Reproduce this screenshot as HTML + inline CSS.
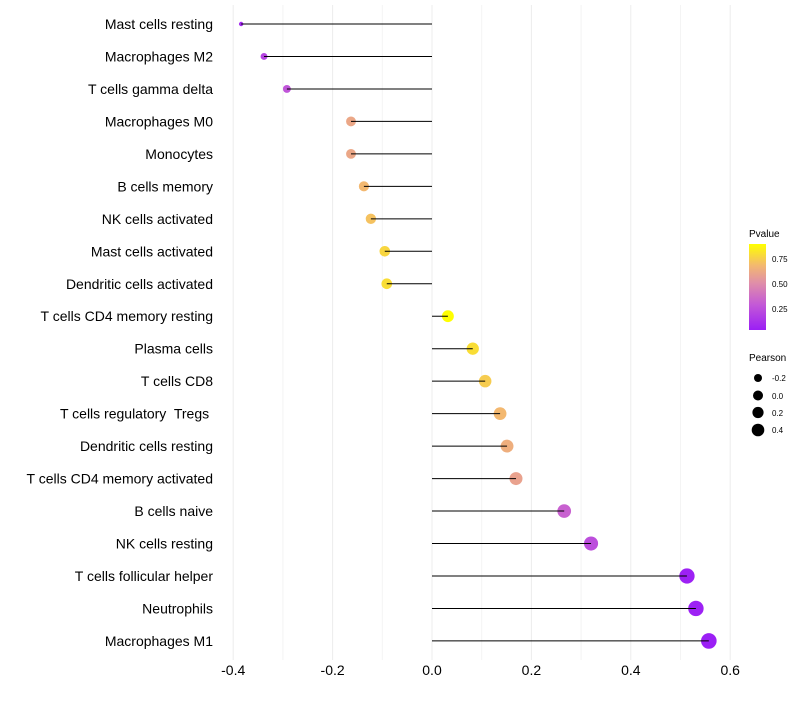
<!DOCTYPE html>
<html><head><meta charset="utf-8"><style>
body{margin:0;background:#fff;font-family:"Liberation Sans",sans-serif}
svg text{font-family:"Liberation Sans",sans-serif;white-space:pre}
</style></head><body>
<svg id="chart" width="800" height="700">
<defs><linearGradient id="pg" x1="0" y1="1" x2="0" y2="0">
<stop offset="0" stop-color="#9b1ff5"/><stop offset="0.3" stop-color="#c45ad6"/>
<stop offset="0.55" stop-color="#e08fa8"/><stop offset="0.75" stop-color="#f3b870"/>
<stop offset="1" stop-color="#ffff00"/></linearGradient></defs>
<g id="grid"></g>
<g id="marks"></g>
<g id="ylabels"></g>
<g id="xlabels"></g>
<g>
<text x="749" y="237" font-size="10">Pvalue</text>
<rect x="749" y="244" width="17" height="86" fill="url(#pg)"/>
<text x="772" y="262" font-size="8">0.75</text>
<text x="772" y="287" font-size="8">0.50</text>
<text x="772" y="312" font-size="8">0.25</text>
</g>
<g>
<text x="749" y="361" font-size="10">Pearson</text>
<circle cx="758" cy="378" r="4"/>
<text x="772" y="381" font-size="8">-0.2</text>
<circle cx="758" cy="395.5" r="5"/>
<text x="772" y="399" font-size="8">0.0</text>
<circle cx="758" cy="412.5" r="5.6"/>
<text x="772" y="416" font-size="8">0.2</text>
<circle cx="758" cy="430" r="6.3"/>
<text x="772" y="433" font-size="8">0.4</text>
</g>
</svg>
<script>
const categories=["Mast cells resting","Macrophages M2","T cells gamma delta","Macrophages M0","Monocytes","B cells memory","NK cells activated","Mast cells activated","Dendritic cells activated","T cells CD4 memory resting","Plasma cells","T cells CD8","T cells regulatory  Tregs ","Dendritic cells resting","T cells CD4 memory activated","B cells naive","NK cells resting","T cells follicular helper","Neutrophils","Macrophages M1"];
const pearson=[-0.384,-0.338,-0.292,-0.163,-0.163,-0.137,-0.123,-0.095,-0.091,0.032,0.082,0.107,0.137,0.151,0.169,0.266,0.320,0.513,0.531,0.557];
const pvalue=[0.08,0.2,0.27,0.6,0.6,0.67,0.7,0.76,0.78,0.95,0.78,0.73,0.67,0.63,0.58,0.32,0.24,0.05,0.05,0.03];
const xTicks=[-0.4,-0.2,0,0.2,0.4,0.6];
const xTickLabels=["-0.4","-0.2","0.0","0.2","0.4","0.6"];
const ns="http://www.w3.org/2000/svg";
const x=v=>432+v*497;
const y=i=>24+i*32.47;
const rad=v=>2.2+5.6*Math.sqrt(Math.max(0,(v+0.384)/0.941));
const stops=[[0,[155,31,245]],[0.3,[196,90,214]],[0.55,[224,143,168]],[0.75,[243,184,112]],[1,[255,255,0]]];
function col(p){const t=Math.min(1,Math.max(0,(p-0.04)/0.84));
for(let k=1;k<stops.length;k++){if(t<=stops[k][0]){const a=stops[k-1],b=stops[k],f=(t-a[0])/(b[0]-a[0]);
return "rgb("+a[1].map((c,j)=>Math.round(c+(b[1][j]-c)*f)).join(",")+")";}}return "rgb(255,255,0)";}
function mk(tag,attrs,parent){const e=document.createElementNS(ns,tag);for(const k in attrs)e.setAttribute(k,attrs[k]);parent.appendChild(e);return e;}
const grid=document.getElementById('grid');
for(let k=-4;k<=6;k++){
const g=mk('line',{x1:x(k/10),x2:x(k/10),y1:5,y2:660,stroke:(k%2===0?'#ececec':'#f4f4f4'),'stroke-width':1},grid);

}
const marks=document.getElementById('marks');
categories.forEach((c,i)=>{
const pt=mk('circle',{cx:x(pearson[i]),cy:y(i),r:rad(pearson[i]),fill:col(pvalue[i])},marks);


const s=mk('line',{x1:x(0),x2:x(pearson[i]),y1:y(i),y2:y(i),stroke:'#000','stroke-width':1},marks);


const t=mk('text',{x:213,y:y(i)+5,'text-anchor':'end','font-size':14,fill:'#000'},document.getElementById('ylabels'));
t.textContent=c;


});
xTicks.forEach((v,i)=>{
const t=mk('text',{x:x(v),y:675,'text-anchor':'middle','font-size':14,fill:'#000'},document.getElementById('xlabels'));
t.textContent=xTickLabels[i];


});
</script>
</body></html>
